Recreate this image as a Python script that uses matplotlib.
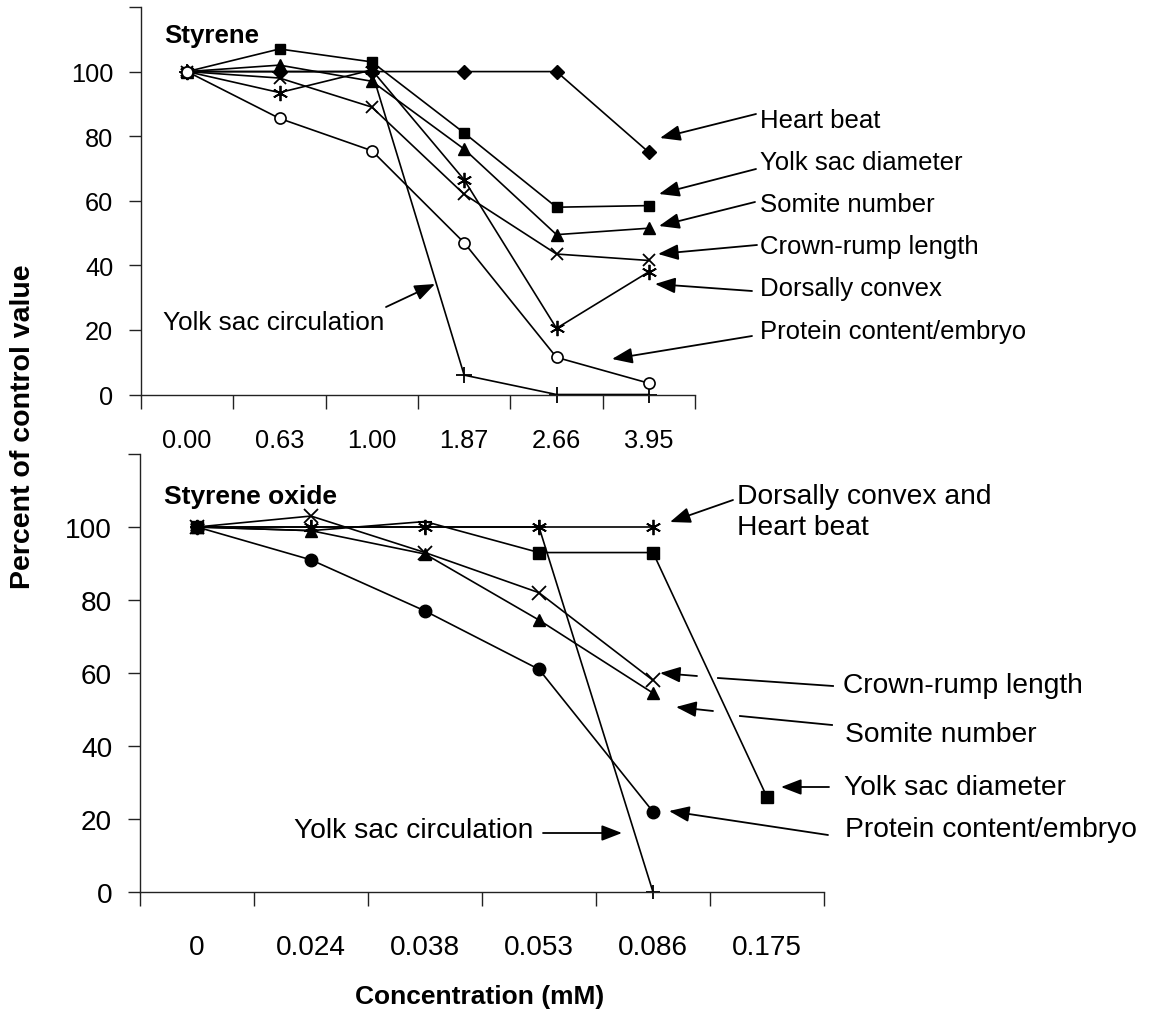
import numpy as np
import matplotlib
matplotlib.use("Agg")
import matplotlib.pyplot as plt
from matplotlib.patches import FancyArrowPatch

plt.rcParams['font.family'] = ['Liberation Sans', 'DejaVu Sans']

# ---------------- data ----------------
top_cats = ["0.00", "0.63", "1.00", "1.87", "2.66", "3.95"]
top_heart_beat = [100, 100, 100, 100, 100, 75]
top_yolk_diam = [100, 107, 103, 81, 58, 58.5]
top_somite = [100, 102, 97, 76, 49.5, 51.5]
top_crown_rump = [100, 98, 89, 62, 43.5, 41.5]
top_dorsally = [100, 93.5, 100.5, 66.5, 20.5, 38]
top_protein = [100, 85.5, 75.5, 47, 11.5, 3.5]
top_yolk_circ = [100, 100, 100, 6, 0, 0]

bot_cats = ["0", "0.024", "0.038", "0.053", "0.086", "0.175"]
bot_dors_heart = [100, 100, 100, 100, 100, np.nan]
bot_yolk_diam = [100, 99, 101.5, 93, 93, 26]
bot_crown_rump = [100, 103, 93, 82, 58, np.nan]
bot_somite = [100, 99, 92.6, 74.5, 54.5, np.nan]
bot_protein = [100, 91, 77, 61, 22, np.nan]
bot_yolk_circ = [100, 100, 100, 100, 0, np.nan]

W, H = 1158, 1012
fig = plt.figure(figsize=(W / 100, H / 100), dpi=100)
ax1 = fig.add_axes([141 / W, 1 - 395.5 / H, 554 / W, 387.5 / H])
ax2 = fig.add_axes([140 / W, 1 - 893 / H, 684 / W, 438 / H])

LW = 1.2
common = dict(color='black', lw=LW, clip_on=False)


def style_axes(ax, cats, fs, xpad):
    for s in ['top', 'right']:
        ax.spines[s].set_visible(False)
    for s in ['left', 'bottom']:
        ax.spines[s].set_linewidth(1.0)
        ax.spines[s].set_color('#222222')
    ax.set_xlim(-0.5, len(cats) - 0.5)
    ax.set_ylim(0, 120)
    ax.set_xticks(range(len(cats)))
    ax.set_xticklabels(cats, fontsize=fs)
    ax.set_xticks(np.arange(-0.5, len(cats), 1.0), minor=True)
    ax.tick_params(axis='x', which='major', length=0, pad=xpad + 10)
    ax.tick_params(axis='x', which='minor', length=10, width=1.0, direction='out', color='#222222')
    yt = np.arange(0, 121, 20)
    ax.set_yticks(yt)
    ax.set_yticklabels([str(v) if v < 120 else '' for v in yt], fontsize=fs)
    ax.tick_params(axis='y', length=9, width=1.0, direction='out', pad=11, color='#222222')


style_axes(ax1, top_cats, 18.3, 14)
style_axes(ax2, bot_cats, 20.2, 20)

xt = np.arange(len(top_cats))
ax1.plot(xt, top_heart_beat, marker='D', ms=7, mfc='black', mec='black', **common)
ax1.plot(xt, top_yolk_diam, marker='s', ms=7.5, mfc='black', mec='black', **common)
ax1.plot(xt, top_somite, marker='^', ms=8.5, mfc='black', mec='black', **common)
ax1.plot(xt, top_crown_rump, marker='x', ms=9, mew=1.3, mec='black', **common)
ax1.plot(xt, top_dorsally, marker=(6, 2, 0), ms=11, mew=1.3, mec='black', **common)
ax1.plot(xt, top_yolk_circ, marker='+', ms=11, mew=1.3, mec='black', **common)
ax1.plot(xt, top_protein, marker='o', ms=8, mfc='white', mec='black', mew=1.2, **common)

xb = np.arange(len(bot_cats))
ax2.plot(xb, bot_yolk_diam, marker='s', ms=8, mfc='black', mec='black', markevery=[0, 3, 4, 5], **common)
ax2.plot(xb, bot_yolk_diam, ls='none', marker='_', ms=10, mew=1.5, mec='black', markevery=[1, 2], clip_on=False)
ax2.plot(xb, bot_somite, marker='^', ms=9, mfc='black', mec='black', **common)
ax2.plot(xb, bot_protein, marker='o', ms=9, mfc='black', mec='black', **common)
ax2.plot(xb, bot_crown_rump, marker='x', ms=10, mew=1.3, mec='black', **common)
ax2.plot(xb, bot_yolk_circ, marker='+', ms=10, mew=1.3, mec='black', **common)
ax2.plot(xb, bot_dors_heart, marker=(6, 2, 0), ms=11, mew=1.3, mec='black', **common)

# ---------------- titles / labels ----------------
def P(x, y):
    return (x / W, 1 - y / H)


fig.text(*P(164, 36), "Styrene", fontsize=18.6, fontweight='bold', ha='left', va='center')
fig.text(*P(164, 497), "Styrene oxide", fontsize=19, fontweight='bold', ha='left', va='center')
fig.text(*P(23, 427), "Percent of control value", fontsize=20.5, fontweight='bold',
         rotation=90, ha='center', va='center')
fig.text(*P(480, 997), "Concentration (mM)", fontsize=19, fontweight='bold', ha='center', va='center')

# ---------------- annotations ----------------
AST = '-|>,head_length=0.62,head_width=0.24'


def arrow(tail, tip):
    fig.add_artist(FancyArrowPatch(P(*tail), P(*tip), transform=fig.transFigure,
                                   arrowstyle=AST, mutation_scale=20, lw=1.3, color='black',
                                   shrinkA=0, shrinkB=0))


def seg(a, b):
    fig.add_artist(plt.Line2D([a[0] / W, b[0] / W], [1 - a[1] / H, 1 - b[1] / H],
                              color='black', lw=1.3))


def label(x, y, s, fs, **kw):
    fig.text(*P(x, y), s, fontsize=fs, ha='left', va='center', **kw)


# top panel
label(760, 121, "Heart beat", 18.5)
arrow((756, 115), (660, 139))
label(760, 163, "Yolk sac diameter", 18.5)
arrow((756, 170), (659, 195))
label(760, 205, "Somite number", 18.5)
arrow((755, 203), (659, 227))
label(760, 247, "Crown-rump length", 18.5)
arrow((757, 246), (658, 255))
label(760, 289, "Dorsally convex", 18.5)
arrow((752, 292), (655, 285))
label(760, 332, "Protein content/embryo", 18.5)
arrow((752, 337), (612, 360))
label(163, 323, "Yolk sac circulation", 18.8)
arrow((386, 308), (435, 285))

# bottom panel
label(737, 513, "Dorsally convex and\nHeart beat", 20.3, linespacing=1.25)
arrow((733, 501), (670, 523))
label(843, 686, "Crown-rump length", 20.3)
seg((833, 687), (718, 679))
arrow((697, 677), (660, 674))
label(845, 735, "Somite number", 20.3)
seg((832, 726), (740, 717))
arrow((713, 712), (676, 708))
label(844, 788, "Yolk sac diameter", 20.3)
arrow((829, 788), (781, 788))
label(845, 830, "Protein content/embryo", 20.3)
arrow((828, 836), (669, 812))
fig.text(*P(533, 831), "Yolk sac circulation", fontsize=20.3, ha='right', va='center')
arrow((543, 834), (622, 834))

fig.savefig("out.png", dpi=100)
